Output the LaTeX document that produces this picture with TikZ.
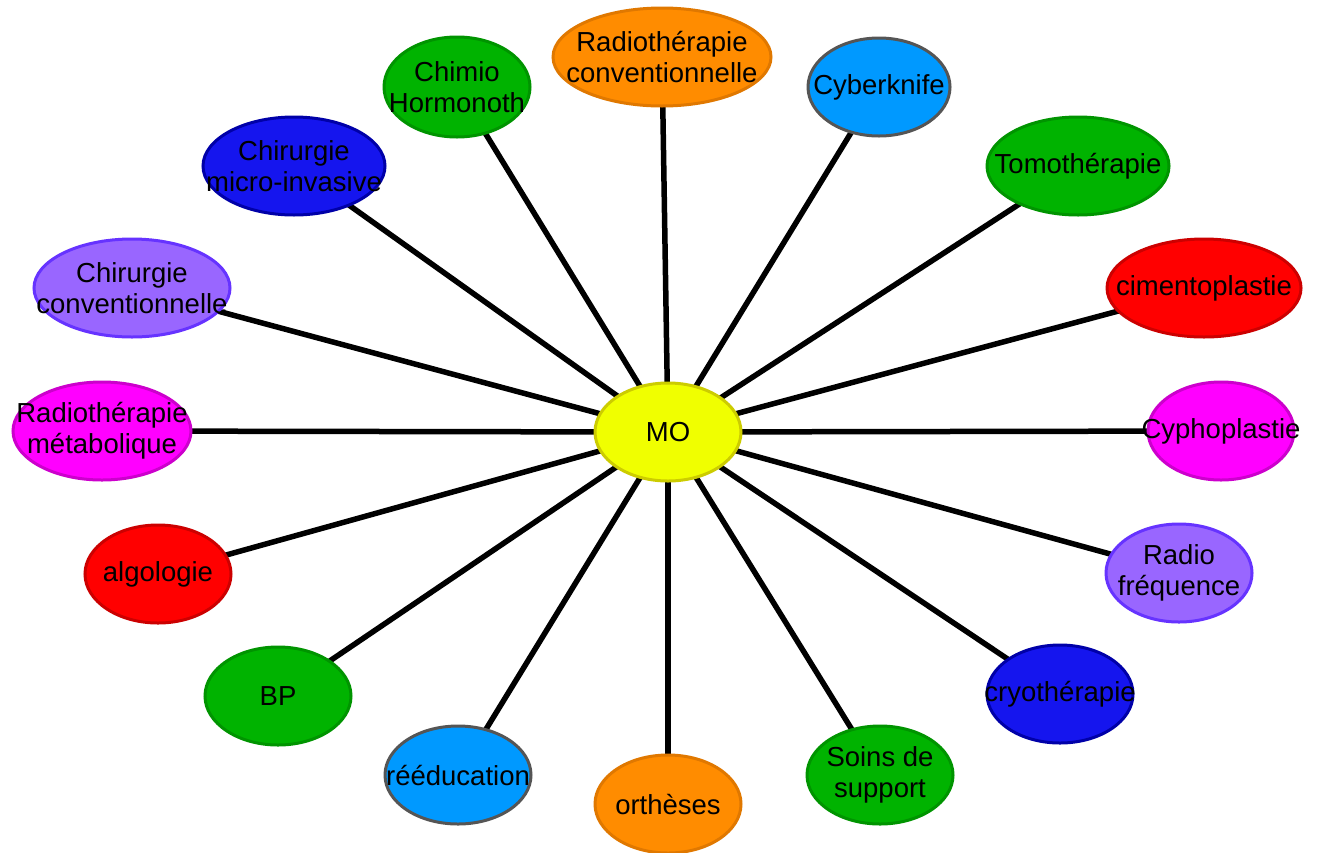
\documentclass[tikz,border=0pt]{standalone}
\usepackage{fontspec}
\setmainfont{Liberation Sans}
\usetikzlibrary{shapes.geometric,backgrounds}
\definecolor{cYel}{HTML}{F0FF00}\definecolor{bYel}{HTML}{CCCC00}
\definecolor{cOra}{HTML}{FF8C00}\definecolor{bOra}{HTML}{E07800}
\definecolor{cGre}{HTML}{00B300}\definecolor{bGre}{HTML}{009400}
\definecolor{cSky}{HTML}{0099FF}\definecolor{bSky}{HTML}{555555}
\definecolor{cBlu}{HTML}{1515EE}\definecolor{bBlu}{HTML}{0000A8}
\definecolor{cLav}{HTML}{9966FF}\definecolor{bLav}{HTML}{6633FF}
\definecolor{cRed}{HTML}{FF0000}\definecolor{bRed}{HTML}{CC0000}
\definecolor{cMag}{HTML}{FF00FF}\definecolor{bMag}{HTML}{CC00CC}
\tikzset{
  blob/.style={ellipse, inner sep=0pt, line width=3pt, minimum width=146pt, minimum height=98pt},
  lbl/.style={font=\fontsize{27.5}{31}\selectfont, text=black, align=center, inner sep=0pt},
  yel/.style={blob, fill=cYel, draw=bYel},
  ora/.style={blob, fill=cOra, draw=bOra},
  gre/.style={blob, fill=cGre, draw=bGre},
  sky/.style={blob, fill=cSky, draw=bSky},
  blu/.style={blob, fill=cBlu, draw=bBlu},
  lav/.style={blob, fill=cLav, draw=bLav},
  red/.style={blob, fill=cRed, draw=bRed},
  mag/.style={blob, fill=cMag, draw=bMag},
  spoke/.style={line width=5.5pt, black}
}
\begin{document}
\begin{tikzpicture}[x=1pt,y=-1pt]
\path[use as bounding box] (0,0) rectangle (1321,852);
\node[yel] (mo) at (668,432) {};
\node[ora, minimum width=218pt] (rc) at (662,57) {};
\node[gre, minimum height=100pt] (ch) at (457,87) {};
\node[sky, minimum width=142pt] (cy) at (879,87) {};
\node[blu, minimum width=182pt] (cmi) at (294,166) {};
\node[gre, minimum width=182pt] (to) at (1078,166) {};
\node[lav, minimum width=196pt] (cc) at (132,288) {};
\node[red, minimum width=194pt] (ci) at (1204,288) {};
\node[mag, minimum width=178pt] (rm) at (102,431) {};
\node[mag] (cyph) at (1221,431) {};
\node[red] (al) at (158,574) {};
\node[lav] (rf) at (1179,573) {};
\node[gre] (bp) at (278,696) {};
\node[blu] (cryo) at (1060,694) {};
\node[sky] (ree) at (458,775) {};
\node[ora] (orth) at (668,804) {};
\node[gre] (ss) at (880,775) {};
\begin{scope}[on background layer]
\foreach \n in {rc,ch,cy,cmi,to,cc,ci,rm,cyph,al,rf,bp,cryo,ree,orth,ss}
  \draw[spoke] (mo.center) -- (\n.center);
\end{scope}
\node[lbl] (tmo) at (mo) {MO};
\node[lbl] (trc) at (rc) {Radiothérapie\\conventionnelle};
\node[lbl] (tch) at (ch) {Chimio\\Hormonoth};
\node[lbl] (tcy) at (cy) {Cyberknife};
\node[lbl] (tcmi) at (cmi) {Chirurgie\\micro-invasive};
\node[lbl] (tto) at (to) {Tomothérapie};
\node[lbl] (tcc) at (cc) {Chirurgie\\conventionnelle};
\node[lbl] (tci) at (ci) {cimentoplastie};
\node[lbl] (trm) at (rm) {Radiothérapie\\métabolique};
\node[lbl] (tcyph) at (cyph) {Cyphoplastie};
\node[lbl] (tal) at (al) {algologie};
\node[lbl] (trf) at (rf) {Radio\\fréquence};
\node[lbl] (tbp) at (bp) {BP};
\node[lbl] (tcryo) at (cryo) {cryothérapie};
\node[lbl] (tree) at (ree) {rééducation};
\node[lbl] (torth) at (orth) {orthèses};
\node[lbl] (tss) at (ss) {Soins de\\support};
\end{tikzpicture}
\end{document}
